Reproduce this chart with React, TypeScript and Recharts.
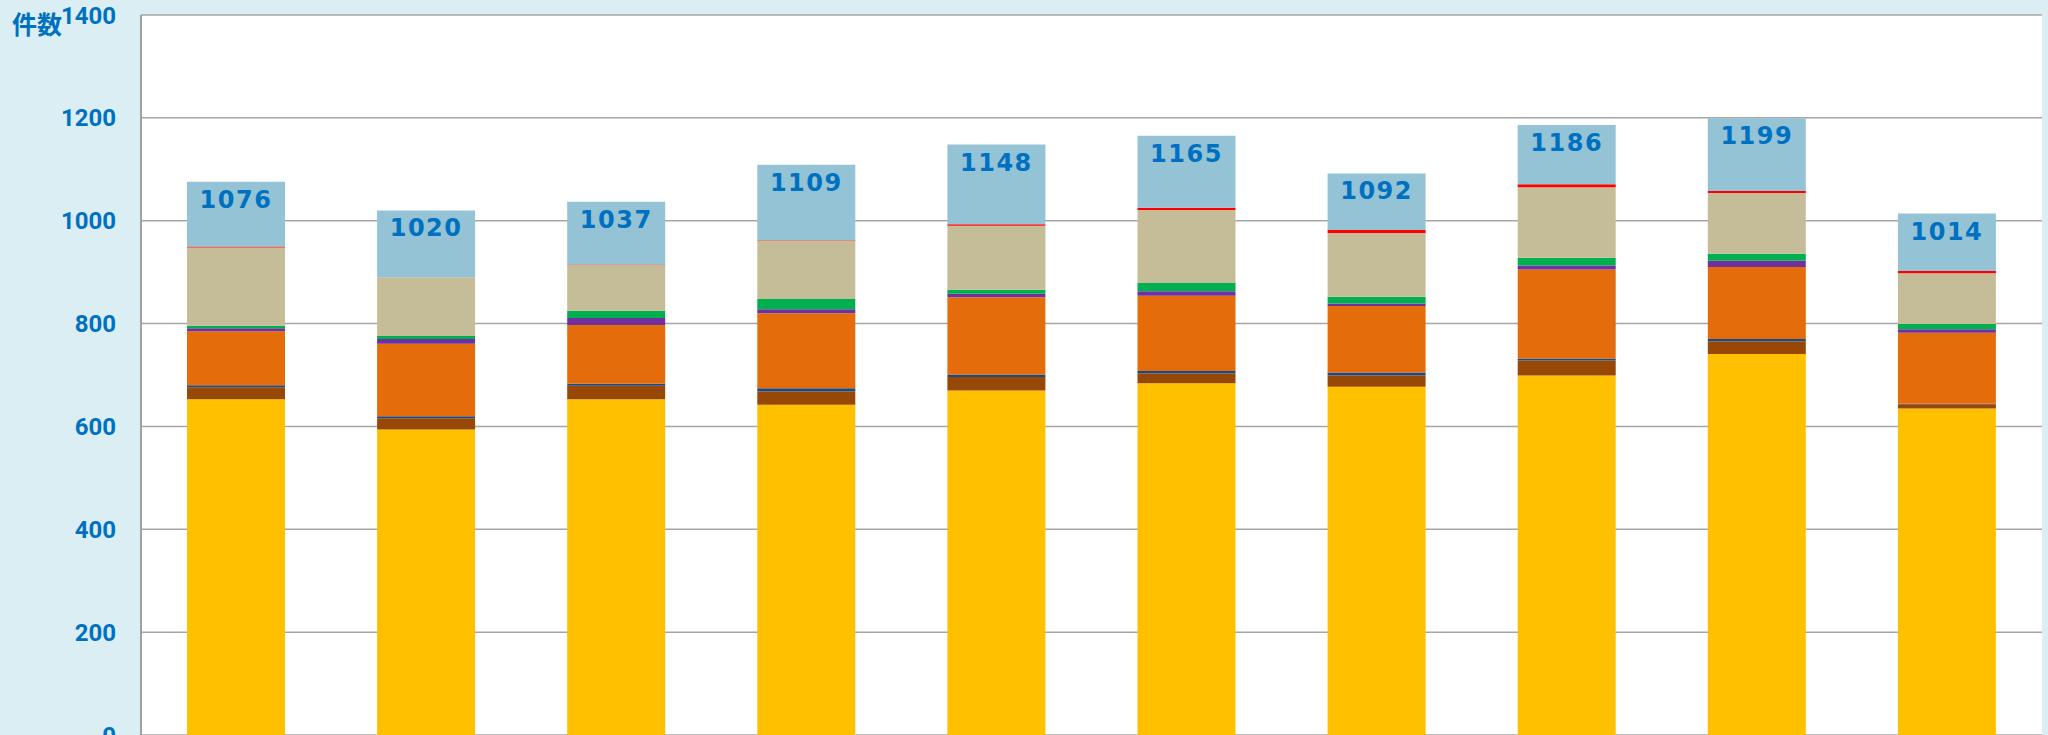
import { BarChart, Bar, XAxis, YAxis, CartesianGrid, LabelList } from "recharts";

const categories = ["1", "2", "3", "4", "5", "6", "7", "8", "9", "10"];
const yellow = [653, 594, 653, 642, 670, 684, 677, 699, 741, 635];
const brown = [23, 22, 26, 26, 26, 19, 22, 29, 24, 8];
const darkBlue = [4, 4, 4, 6, 5, 5, 6, 4, 5, 1];
const orange = [105, 141, 114, 146, 150, 146, 129, 173, 140, 138];
const purple = [6, 9, 14, 8, 7, 9, 5, 8, 12, 7];
const green = [5, 6, 14, 20, 8, 16, 13, 15, 14, 10];
const tan = [152, 114, 89, 113, 124, 142, 124, 137, 118, 99];
const red = [2, 0, 1, 1, 3, 4, 6, 6, 4, 4];
const lightBlue = [126, 130, 122, 147, 155, 140, 110, 115, 141, 112];
const totals = [1076, 1020, 1037, 1109, 1148, 1165, 1092, 1186, 1199, 1014];
const yTicks = [0, 200, 400, 600, 800, 1000, 1200, 1400];

const series = [
  { key: "yellow", values: yellow, color: "#FFC000" },
  { key: "brown", values: brown, color: "#974806" },
  { key: "darkBlue", values: darkBlue, color: "#1F497D" },
  { key: "orange", values: orange, color: "#E46C0A" },
  { key: "purple", values: purple, color: "#7030A0" },
  { key: "green", values: green, color: "#00B050" },
  { key: "tan", values: tan, color: "#C4BD97" },
  { key: "red", values: red, color: "#FF0000" },
  { key: "lightBlue", values: lightBlue, color: "#93C3D5" },
];

const data = categories.map((name, i) => {
  const row: Record<string, number | string> = { name, total: totals[i] };
  series.forEach((s) => {
    row[s.key] = s.values[i];
  });
  return row;
});

const TotalLabel = (props: any) => {
  const { x, y, width, value } = props;
  return (
    <text
      x={x + width / 2}
      y={y + 26}
      textAnchor="middle"
      fill="#0070C0"
      fontSize={24}
      fontWeight={700}
      letterSpacing={1.5}
      fontFamily="DejaVu Sans"
    >
      {value}
    </text>
  );
};

export default function App() {
  return (
    <div
      style={{
        position: "absolute",
        left: 0,
        top: 0,
        width: 2048,
        height: 735,
        background: "#DAEEF3",
        overflow: "hidden",
      }}
    >
      <div
        style={{
          position: "absolute",
          left: 12,
          top: 8,
          color: "#0070C0",
          fontSize: 25,
          fontWeight: 700,
          fontFamily: "Noto Sans CJK JP",
          lineHeight: "30px",
        }}
      >
        件数
      </div>
      <BarChart
        width={2048}
        height={735}
        data={data}
        margin={{ top: 15, right: 6, bottom: 0, left: 0 }}
        barSize={98}
      >
        <CartesianGrid vertical={false} stroke="#A6A6A6" strokeWidth={1.5} fill="#FFFFFF" />
        <XAxis dataKey="name" hide />
        <YAxis
          width={141}
          domain={[0, 1400]}
          ticks={yTicks}
          interval={0}
          tickLine={false}
          tickSize={0}
          tickMargin={25}
          axisLine={{ stroke: "#A0A0A0", strokeWidth: 2 }}
          tick={{ fill: "#0070C0", fontSize: 24, fontWeight: 700, fontFamily: "Roboto" }}
        />
        {series.map((s) => (
          <Bar
            key={s.key}
            dataKey={s.key}
            stackId="a"
            fill={s.color}
            isAnimationActive={false}
          >
            {s.key === "lightBlue" && (
              <LabelList dataKey="total" content={TotalLabel} />
            )}
          </Bar>
        ))}
      </BarChart>
    </div>
  );
}
